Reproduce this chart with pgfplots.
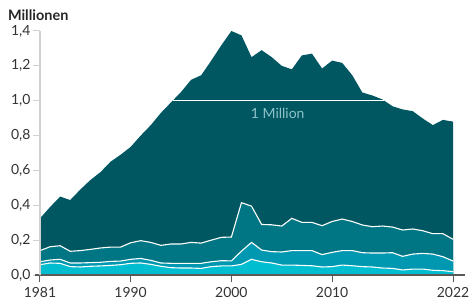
\documentclass[border=0pt]{standalone}
\usepackage{pgfplots}
\usepackage{pgfplotstable}
\pgfplotsset{compat=1.18}
\usepackage{fontspec}
\setmainfont{Lato}
\definecolor{c1}{HTML}{005761}
\definecolor{c2}{HTML}{007684}
\definecolor{c3}{HTML}{0098B0}
\definecolor{c4}{HTML}{00BDD0}
\definecolor{lbl}{HTML}{8FC4CA}
\pgfplotstableread{
year total l2 l3 l4
1981 0.325 0.140 0.076 0.059
1982 0.39 0.162 0.086 0.069
1983 0.45 0.168 0.090 0.067
1984 0.43 0.136 0.069 0.048
1985 0.49 0.140 0.069 0.046
1986 0.545 0.147 0.071 0.050
1987 0.59 0.155 0.073 0.052
1988 0.65 0.160 0.078 0.055
1989 0.69 0.160 0.080 0.059
1990 0.735 0.185 0.090 0.067
1991 0.80 0.197 0.095 0.069
1992 0.86 0.187 0.084 0.061
1993 0.93 0.170 0.069 0.050
1994 0.99 0.178 0.067 0.042
1995 1.05 0.178 0.067 0.040
1996 1.12 0.187 0.067 0.040
1997 1.146 0.183 0.067 0.038
1998 1.23 0.200 0.076 0.048
1999 1.318 0.216 0.082 0.052
2000 1.40 0.218 0.081 0.052
2001 1.375 0.415 0.137 0.061
2002 1.25 0.395 0.187 0.090
2003 1.29 0.290 0.143 0.076
2004 1.25 0.288 0.134 0.069
2005 1.20 0.281 0.132 0.057
2006 1.18 0.325 0.140 0.057
2007 1.26 0.302 0.140 0.055
2008 1.27 0.302 0.140 0.053
2009 1.185 0.283 0.117 0.046
2010 1.23 0.307 0.130 0.048
2011 1.217 0.321 0.140 0.057
2012 1.146 0.307 0.140 0.053
2013 1.047 0.287 0.128 0.048
2014 1.03 0.277 0.126 0.046
2015 1.007 0.281 0.126 0.040
2016 0.968 0.275 0.128 0.038
2017 0.95 0.258 0.107 0.029
2018 0.94 0.264 0.120 0.034
2019 0.898 0.254 0.124 0.034
2020 0.86 0.237 0.120 0.027
2021 0.89 0.237 0.105 0.025
2022 0.88 0.205 0.080 0.019
}\data
\begin{document}
\begin{tikzpicture}
\useasboundingbox (-40bp,-31bp) rectangle (432bp,275bp);
\begin{axis}[
  at={(0,0)}, anchor=origin,
  scale only axis, width=413bp, height=244bp,
  xmin=1981, xmax=2022, ymin=0, ymax=1.4,
  axis on top,
  axis x line*=bottom, axis y line*=left,
  axis line style={-},
  x axis line style={draw=black!65, line width=1.2bp, shorten <=-5bp, shorten >=-12bp},
  y axis line style={draw=black!18, line width=1.2bp},
  xtick={1981,1990,2000,2010,2022},
  ytick={0,0.2,0.4,0.6,0.8,1.0,1.2,1.4},
  tick align=outside,
  major tick length=7bp,
  xtick style={draw=black!65, line width=1bp},
  ytick style={draw=black!18, line width=1bp},
  /pgf/number format/assume math mode=true,
  xticklabel style={/pgf/number format/1000 sep=, font=\fontsize{14}{16}\selectfont, text=black!80, yshift=-2bp},
  yticklabel style={/pgf/number format/.cd, use comma, fixed, fixed zerofill, precision=1, /tikz/.cd, font=\fontsize{14}{16}\selectfont, text=black!80, xshift=1bp},
]
\addplot[fill=c1, draw=none] table[x=year,y=total] {\data} \closedcycle;
\addplot[fill=c2, draw=none] table[x=year,y=l2] {\data} \closedcycle;
\addplot[fill=c3, draw=none] table[x=year,y=l3] {\data} \closedcycle;
\addplot[fill=c4, draw=none] table[x=year,y=l4] {\data} \closedcycle;
\addplot[white, line width=1.1bp] table[x=year,y=l2] {\data};
\addplot[white, line width=1.1bp] table[x=year,y=l3] {\data};
\addplot[white, line width=1.1bp] table[x=year,y=l4] {\data};
\addplot[white, line width=1.3bp] coordinates {(1994.2,1.0) (2015.1,1.0)};
\node[text=lbl, font=\fontsize{14}{16}\selectfont] at (axis cs:2004.6,0.925) {1 Million};
\end{axis}
\node[anchor=west, font=\bfseries\fontsize{14.5}{16}\selectfont, text=black!85] at (-35.5bp,260bp) {Millionen};
\end{tikzpicture}
\end{document}
